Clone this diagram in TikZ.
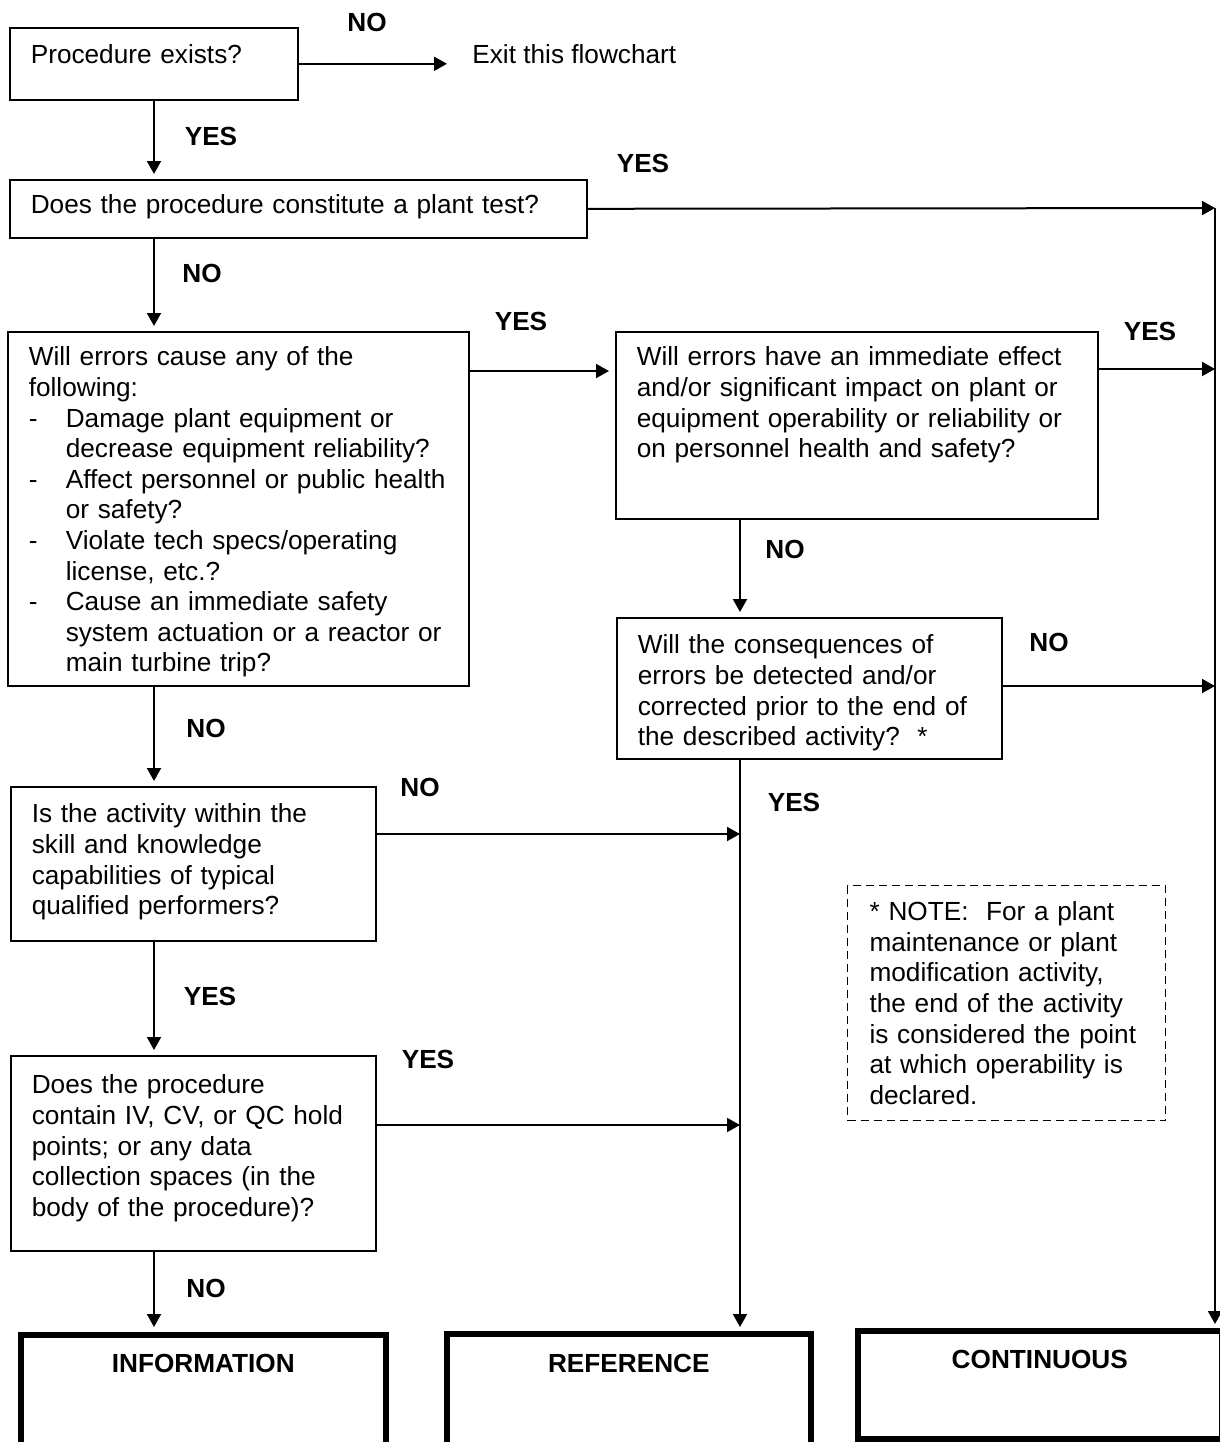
\documentclass[tikz,border=0pt]{standalone}
\usepackage{fontspec}
\setmainfont{Liberation Sans}
\usetikzlibrary{arrows.meta}

\newcommand{\dashitem}[1]{\makebox[18.5pt][l]{-}\mbox{#1}}
\newcommand{\hangitem}[1]{\hspace*{18.5pt}\mbox{#1}}

\begin{document}
\begin{tikzpicture}
  [x=0.5pt,y=-0.5pt,
   every node/.style={font=\fontsize{13.1}{15.3}\selectfont},
   qbox/.style={draw,line width=.8pt,anchor=north west,align=left,inner xsep=10.5pt,text height=10pt},
   notebox/.style={qbox,line width=.6pt,dash pattern=on 4pt off 2.5pt,inner xsep=11pt},
   endbox/.style={draw,line width=2.8pt,anchor=north west,text height=9.5pt,font=\fontsize{13.1}{15.3}\selectfont\bfseries},
   lbl/.style={inner sep=0pt,font=\fontsize{13.1}{15.3}\selectfont\bfseries},
   flow/.style={line width=1pt,-{Triangle[length=6.5pt,width=7pt]}}]
  \useasboundingbox (0,0) rectangle (1220,1442);

  % question boxes
  \node[qbox,text width=123pt,inner ysep=8pt,text depth=10pt] (exist) at (9,27) {Procedure exists?};
  \node[qbox,text width=267.5pt,inner ysep=7pt,text depth=5pt] (test) at (9,179) {Does the procedure constitute a plant test?};
  \node[qbox,text width=209.5pt,inner ysep=7pt,text depth=153pt] (cause) at (7,331)
    {Will errors cause any of the\\ following:\\
     \dashitem{Damage plant equipment or}\\ \hangitem{decrease equipment reliability?}\\
     \dashitem{Affect personnel or public health}\\ \hangitem{or safety?}\\
     \dashitem{Violate tech specs/operating}\\ \hangitem{license, etc.?}\\
     \dashitem{Cause an immediate safety}\\ \hangitem{system actuation or a reactor or}\\
     \hangitem{main turbine trip?}};
  \node[qbox,text width=220pt,inner ysep=7pt,text depth=69.5pt] (impact) at (615,331)
    {Will errors have an immediate effect\\ and/or significant impact on plant or\\
     equipment operability or reliability or\\ on personnel health and safety?};
  \node[qbox,text width=171.5pt,inner ysep=8pt,text depth=44.5pt] (detect) at (616,617)
    {Will the consequences of\\ errors be detected and/or\\ corrected prior to the end of\\
     the described activity?\ \ *};
  \node[qbox,text width=161.5pt,inner ysep=8pt,text depth=51pt] (skill) at (10,786)
    {Is the activity within the\\ skill and knowledge\\ capabilities of typical\\ qualified performers?};
  \node[qbox,text width=161.5pt,inner ysep=9pt,text depth=69.5pt] (hold) at (10,1055)
    {Does the procedure\\ contain IV, CV, or QC hold\\ points; or any data\\
     collection spaces (in the\\ body of the procedure)?};
  \node[notebox,text width=137pt,inner ysep=7.5pt,text depth=92.5pt] (note) at (847,885)
    {* NOTE:\ \ For a plant\\ maintenance or plant\\ modification activity,\\
     the end of the activity\\ is considered the point\\ at which operability is\\ declared.};

  % result boxes
  \node[endbox,minimum width=182.5pt,inner ysep=9.25pt,text depth=36pt] (info) at (18,1332) {INFORMATION};
  \node[endbox,minimum width=182pt,inner ysep=9.75pt,text depth=35pt] (refc) at (444,1331) {REFERENCE};
  \node[endbox,minimum width=182pt,inner ysep=9.25pt,text depth=26pt] (cont) at (855,1328) {CONTINUOUS};

  \node[anchor=base west,inner sep=0pt] (exitc) at (472,63) {Exit this flowchart};

  % branch labels
  \node[lbl] (no1) at (367,22) {NO};
  \node[lbl] (yes1) at (211,136) {YES};
  \node[lbl] (yes2) at (643,163) {YES};
  \node[lbl] (no2) at (202,273) {NO};
  \node[lbl] (yes3) at (521,321) {YES};
  \node[lbl] (yes4) at (1150,331) {YES};
  \node[lbl] (no3) at (785,549) {NO};
  \node[lbl] (no4) at (1049,642) {NO};
  \node[lbl] (no5) at (206,728) {NO};
  \node[lbl] (no6) at (420,787) {NO};
  \node[lbl] (yes5) at (794,802) {YES};
  \node[lbl] (yes6) at (210,996) {YES};
  \node[lbl] (yes7) at (428,1059) {YES};
  \node[lbl] (no7) at (206,1288) {NO};

  % rails and bends
  \coordinate (lft) at (154,0);
  \coordinate (rail) at (1215,208);
  \coordinate (mid) at (740,758);
  \coordinate (k1) at (540,371);
  \coordinate (k2) at (1150,369);
  \coordinate (k3) at (1100,686);
  \coordinate (k4) at (550,834);
  \coordinate (k5) at (550,1125);

  \foreach \from/\to in {exist/test,test/cause,cause/skill,skill/hold,hold/info}
    \draw[flow,shorten >=2.5pt] (\from.south -| lft) -- (\to.north -| lft);

  \draw[flow,shorten >=12.5pt] (exist.east) -- (exist.east -| exitc.west);
  \draw[flow] (test.east) -- (rail);
  \draw[flow,shorten >=3pt] (k1 -| cause.east) -- (k1 -| impact.west);
  \draw[flow] (k2 -| impact.east) -- (k2 -| rail);
  \draw[flow] (k3 -| detect.east) -- (k3 -| rail);
  \draw[flow] (k4 -| skill.east) -- (k4 -| mid);
  \draw[flow] (k5 -| hold.east) -- (k5 -| mid);
  \draw[flow,shorten >=2.5pt] (impact.south -| mid) -- (detect.north -| mid);
  \draw[flow,shorten >=2pt] (detect.south -| mid) -- (refc.north -| mid);
  \draw[flow,shorten >=2pt] (rail) -- (cont.north -| rail);

\end{tikzpicture}
\end{document}
